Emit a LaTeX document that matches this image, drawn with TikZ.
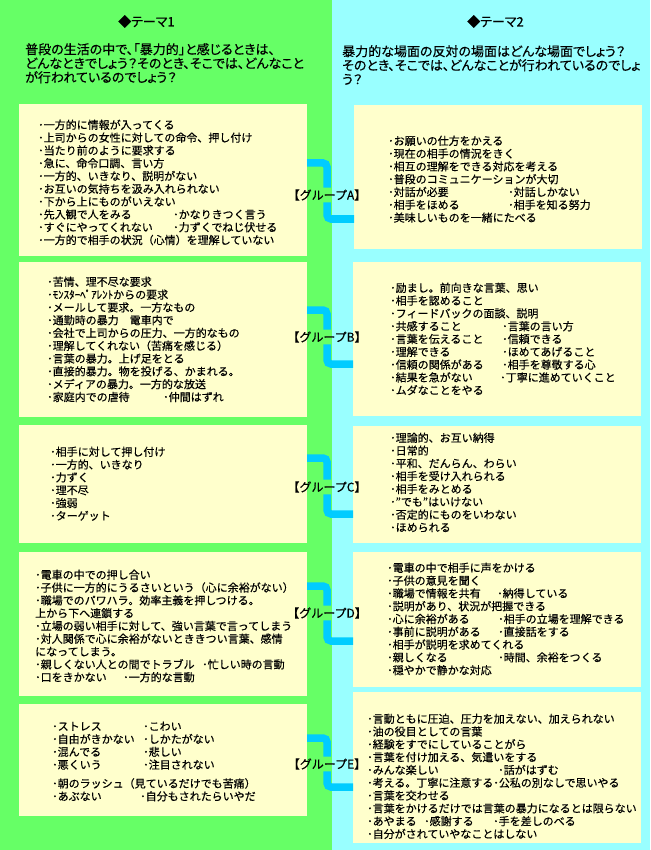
\documentclass[tikz,border=0pt]{standalone}
\usepackage{fontspec}
\setmainfont{Noto Sans CJK JP}[FakeBold=0.4]
\newfontfamily\hdfont{Noto Sans CJK JP}[RawFeature=+palt,FakeBold=0.4]
\definecolor{grn}{HTML}{66FF66}
\definecolor{cyn}{HTML}{99FFFF}
\definecolor{yel}{HTML}{FFFFCC}
\definecolor{con}{HTML}{00CCFF}
\newcommand\twocol[3]{\makebox[#1pt][l]{#2}#3}
\begin{document}
\begin{tikzpicture}[x=1pt,y=-1pt]
\tikzset{
  ybox/.style={fill=yel,draw=none,inner sep=0pt,outer sep=0pt,anchor=north west},
  txt/.style={anchor=north west,inner sep=0pt,align=left,font=\fontsize{11}{12.8}\selectfont},
  head/.style={anchor=north west,inner sep=0pt,align=left,font=\hdfont\fontsize{13}{14}\selectfont},
  lab/.style={inner sep=1.5pt,font=\fontsize{12}{13}\selectfont},
  conn/.style={draw=con,line width=7.5pt,rounded corners=4pt}
}
\useasboundingbox (0,0) rectangle (650,850);
\fill[grn] (0,0) rectangle (331.5,850);
\fill[cyn] (331.5,0) rectangle (650,850);

% headers
\node[head] (t1) at (118,15) {◆テーマ1};
\node[head] (t2) at (467,15) {◆テーマ2};
\node[head] (h1) at (25,43) {普段の生活の中で、「暴力的」と感じるときは、\\どんなときでしょう？そのとき、そこでは、どんなこと\\が行われているのでしょう？};
\node[head] (h2) at (342,45) {暴力的な場面の反対の場面はどんな場面でしょう？\\そのとき、そこでは、どんなことが行われているのでしょ\\う？};

% boxes
\node[ybox,minimum width=288pt,minimum height=152pt] (LA) at (19,104) {};
\node[ybox,minimum width=288pt,minimum height=144pt] (RA) at (354,105) {};
\node[ybox,minimum width=288pt,minimum height=155pt] (LB) at (19,262) {};
\node[ybox,minimum width=288pt,minimum height=154pt] (RB) at (353,262) {};
\node[ybox,minimum width=288pt,minimum height=118pt] (LC) at (19,425) {};
\node[ybox,minimum width=288pt,minimum height=117pt] (RC) at (353,426) {};
\node[ybox,minimum width=288pt,minimum height=144pt] (LD) at (19,552) {};
\node[ybox,minimum width=288pt,minimum height=135pt] (RD) at (353,552) {};
\node[ybox,minimum width=288pt,minimum height=112pt] (LE) at (19,704) {};
\node[ybox,minimum width=288pt,minimum height=151pt] (RE) at (353,692) {};

% labels
\node[lab] (gA) at (327,195) {【グループA】};
\node[lab] (gB) at (327,337) {【グループB】};
\node[lab] (gC) at (327,487) {【グループC】};
\node[lab] (gD) at (327,613) {【グループD】};
\node[lab] (gE) at (327,764) {【グループE】};

% connectors
\draw[conn] (LA.east |- 0,163) -| (gA.north);
\draw[conn] (gA.south) |- (RA.west |- 0,219);
\draw[conn] (LB.east |- 0,310) -| (gB.north);
\draw[conn] (gB.south) |- (RB.west |- 0,364);
\draw[conn] (LC.east |- 0,458) -| (gC.north);
\draw[conn] (gC.south) |- (RC.west |- 0,514);
\draw[conn] (LD.east |- 0,586) -| (gD.north);
\draw[conn] (gD.south) |- (RD.west |- 0,641);
\draw[conn] (LE.east |- 0,738) -| (gE.north);
\draw[conn] (gE.south) |- (RE.west |- 0,787);

% texts
\node[txt] (xLA) at (38,119.5) {･一方的に情報が入ってくる\\
･上司からの女性に対しての命令、押し付け\\
･当たり前のように要求する\\
･急に、命令口調、言い方\\
･一方的、いきなり、説明がない\\
･お互いの気持ちを汲み入れられない\\
･下から上にものがいえない\\
\twocol{135}{･先入観で人をみる}{･かなりきつく言う}\\
\twocol{135}{･すぐにやってくれない}{･力ずくでねじ伏せる}\\
･一方的で相手の状況（心情）を理解していない};

\node[txt] (xRA) at (388,135.5) {･お願いの仕方をかえる\\
･現在の相手の情況をきく\\
･相互の理解をできる対応を考える\\
･普段のコミュニケーションが大切\\
\twocol{120}{･対話が必要}{･対話しかない}\\
\twocol{120}{･相手をほめる}{･相手を知る努力}\\
･美味しいものを一緒にたべる};

\node[txt] (xLB) at (47,276.5) {･苦情、理不尽な要求\\
･ﾓﾝｽﾀｰﾍﾟｱﾚﾝﾄからの要求\\
･メールして要求。一方なもの\\
･通勤時の暴力　電車内で\\
･会社で上司からの圧力、一方的なもの\\
･理解してくれない（苦痛を感じる）\\
･言葉の暴力。上げ足をとる\\
･直接的暴力。物を投げる、かまれる。\\
･メディアの暴力。一方的な放送\\
\twocol{116}{･家庭内での虐待}{･仲間はずれ}};

\node[txt] (xRB) at (390,282.5) {･励まし。前向きな言葉、思い\\
･相手を認めること\\
･フィードバックの面談、説明\\
\twocol{112}{･共感すること}{･言葉の言い方}\\
\twocol{112}{･言葉を伝えること}{･信頼できる}\\
\twocol{112}{･理解できる}{･ほめてあげること}\\
\twocol{112}{･信頼の関係がある}{･相手を尊敬する心}\\
\twocol{110}{･結果を急がない}{･丁寧に進めていくこと}\\
･ムダなことをやる};

\node[txt] (xLC) at (50,446.5) {･相手に対して押し付け\\
･一方的、いきなり\\
･力ずく\\
･理不尽\\
･強弱\\
･ターゲット};

\node[txt] (xRC) at (390,432.5) {･理論的、お互い納得\\
･日常的\\
･平和、だんらん、わらい\\
･相手を受け入れられる\\
･相手をみとめる\\
･”でも”はいけない\\
･否定的にものをいわない\\
･ほめられる};

\node[txt] (xLD) at (35,569.5) {･電車の中での押し合い\\
･子供に一方的にうるさいという（心に余裕がない）\\
･職場でのパワハラ。効率主義を押しつける。\\
上から下へ連鎖する\\
･立場の弱い相手に対して、強い言葉で言ってしまう\\
･対人関係で心に余裕がないとききつい言葉、感情\\
になってしまう。\\
\twocol{167}{･親しくない人との間でトラブル}{･忙しい時の言動}\\
\twocol{88}{･口をきかない}{･一方的な言動}};

\node[txt] (xRD) at (387,562.5) {･電車の中で相手に声をかける\\
･子供の意見を聞く\\
\twocol{110}{･職場で情報を共有}{･納得している}\\
･説明があり、状況が把握できる\\
\twocol{111}{･心に余裕がある}{･相手の立場を理解できる}\\
\twocol{111}{･事前に説明がある}{･直接話をする}\\
･相手が説明を求めてくれる\\
\twocol{111}{･親しくなる}{･時間、余裕をつくる}\\
･穏やかで静かな対応};

\node[txt] (xLE) at (52,721.5) {\twocol{91}{･ストレス}{･こわい}\\
\twocol{91}{･自由がきかない}{･しかたがない}\\
\twocol{91}{･混んでる}{･悲しい}\\
\twocol{91}{･悪くいう}{･注目されない}\\[6pt]
･朝のラッシュ（見ているだけでも苦痛）\\
\twocol{88}{･あぶない}{･自分もされたらいやだ}};

\node[txt] (xRE) at (367,713.5) {･言動ともに圧迫、圧力を加えない、加えられない\\
･油の役目としての言葉\\
･経験をすでにしていることがら\\
･言葉を付け加える、気遣いをする\\
\twocol{131}{･みんな楽しい}{･話がはずむ}\\
･考える。丁寧に注意する･公私の別なしで思いやる\\
･言葉を交わせる\\
･言葉をかけるだけでは言葉の暴力になるとは限らない\\
\twocol{57}{･あやまる}{\twocol{69}{･感謝する}{･手を差しのべる}}\\
･自分がされていやなことはしない};
\end{tikzpicture}
\end{document}
